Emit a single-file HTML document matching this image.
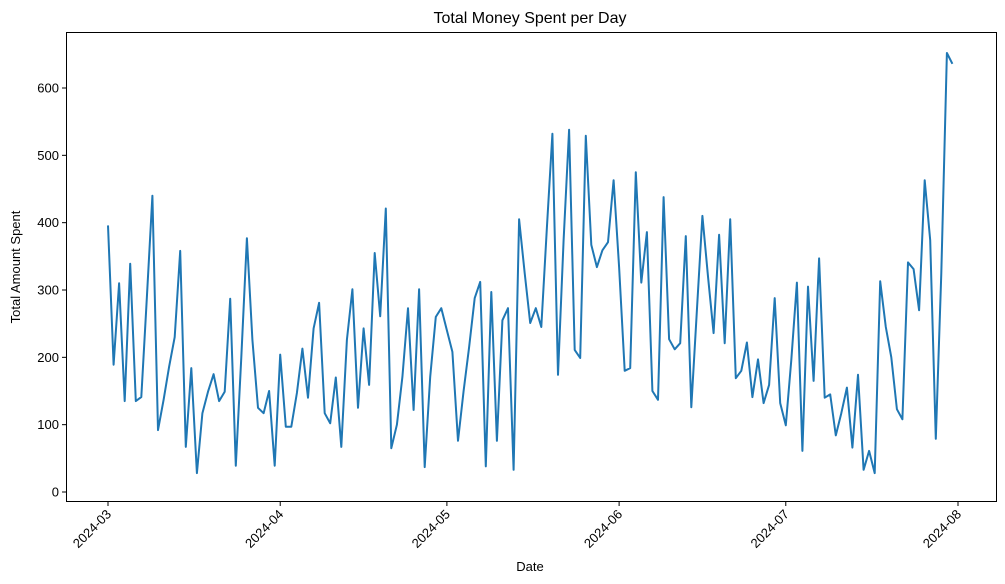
<!DOCTYPE html>
<html><head><meta charset="utf-8"><style>
body{margin:0;background:#fff;}
svg{display:block;font-family:"Liberation Sans","DejaVu Sans",sans-serif;}
</style></head><body>
<svg id="chart" width="1005" height="584" viewBox="0 0 1005 584" xmlns="http://www.w3.org/2000/svg">
<rect width="1005" height="584" fill="#fff"/>
<text x="530" y="23" text-anchor="middle" font-size="16">Total Money Spent per Day</text>
<g id="axes"></g>
<rect x="66.5" y="32.5" width="930" height="469" fill="none" stroke="#000" stroke-width="1"/>
<text x="530" y="571" text-anchor="middle" font-size="13">Date</text>
<text transform="translate(20,267) rotate(-90)" text-anchor="middle" font-size="13">Total Amount Spent</text>
</svg>
<script>
const startDate = "2024-03-01";
const values = [
396,189,310,135,339,135,141,290,440,92,137,186,230,358,67,184,28,117,149,175,135,149,287,39,200,377,226,125,117,150,39,
204,97,97,147,213,140,243,281,117,102,170,67,226,301,125,243,159,355,261,421,65,100,171,273,122,301,37,171,260,273,
240,208,76,150,215,288,312,38,297,76,255,273,33,405,325,251,273,245,393,532,174,374,538,211,199,529,367,334,359,371,463,
334,180,184,475,311,386,150,137,438,227,212,221,380,126,270,410,320,236,382,221,405,169,180,222,141,197,132,159,288,132,
99,196,311,61,305,165,347,140,145,84,117,155,66,174,33,61,28,313,245,200,123,108,341,331,270,463,374,79,325,652,636
];
const xTickLabels = ["2024-03","2024-04","2024-05","2024-06","2024-07","2024-08"];
const xTickDays = [0,31,61,92,122,153];
const yTickValues = [0,100,200,300,400,500,600];

const NS="http://www.w3.org/2000/svg";
const svg=document.getElementById('chart');
const g=document.getElementById('axes');
function xScale(d){return 108+d*(850/153);}
function yScale(v){return 492-v*(404/600);}
function mk(tag,attrs){const e=document.createElementNS(NS,tag);for(const k in attrs)e.setAttribute(k,attrs[k]);return e;}

yTickValues.forEach(v=>{
  const y=yScale(v);
  const t=mk('line',{x1:62,x2:66.5,y1:y,y2:y,stroke:'#000'});
  
  
  g.appendChild(t);
  const l=mk('text',{x:59,y:y+4.5,'text-anchor':'end','font-size':13});
  
  
  l.textContent=v;g.appendChild(l);
});
xTickDays.forEach((d,i)=>{
  const x=xScale(d);
  const t=mk('line',{x1:x,x2:x,y1:501.5,y2:506,stroke:'#000'});
  
  
  g.appendChild(t);
  const l=mk('text',{transform:`translate(${x+4},${515}) rotate(-45)`,'text-anchor':'end','font-size':13});
  
  
  l.textContent=xTickLabels[i];g.appendChild(l);
});
const pts=values.map((v,i)=>xScale(i).toFixed(1)+','+yScale(v).toFixed(1)).join(' ');
const line=mk('polyline',{points:pts,fill:'none',stroke:'#1f77b4','stroke-width':2,'stroke-linejoin':'round'});


svg.appendChild(line);
</script>
</body></html>
